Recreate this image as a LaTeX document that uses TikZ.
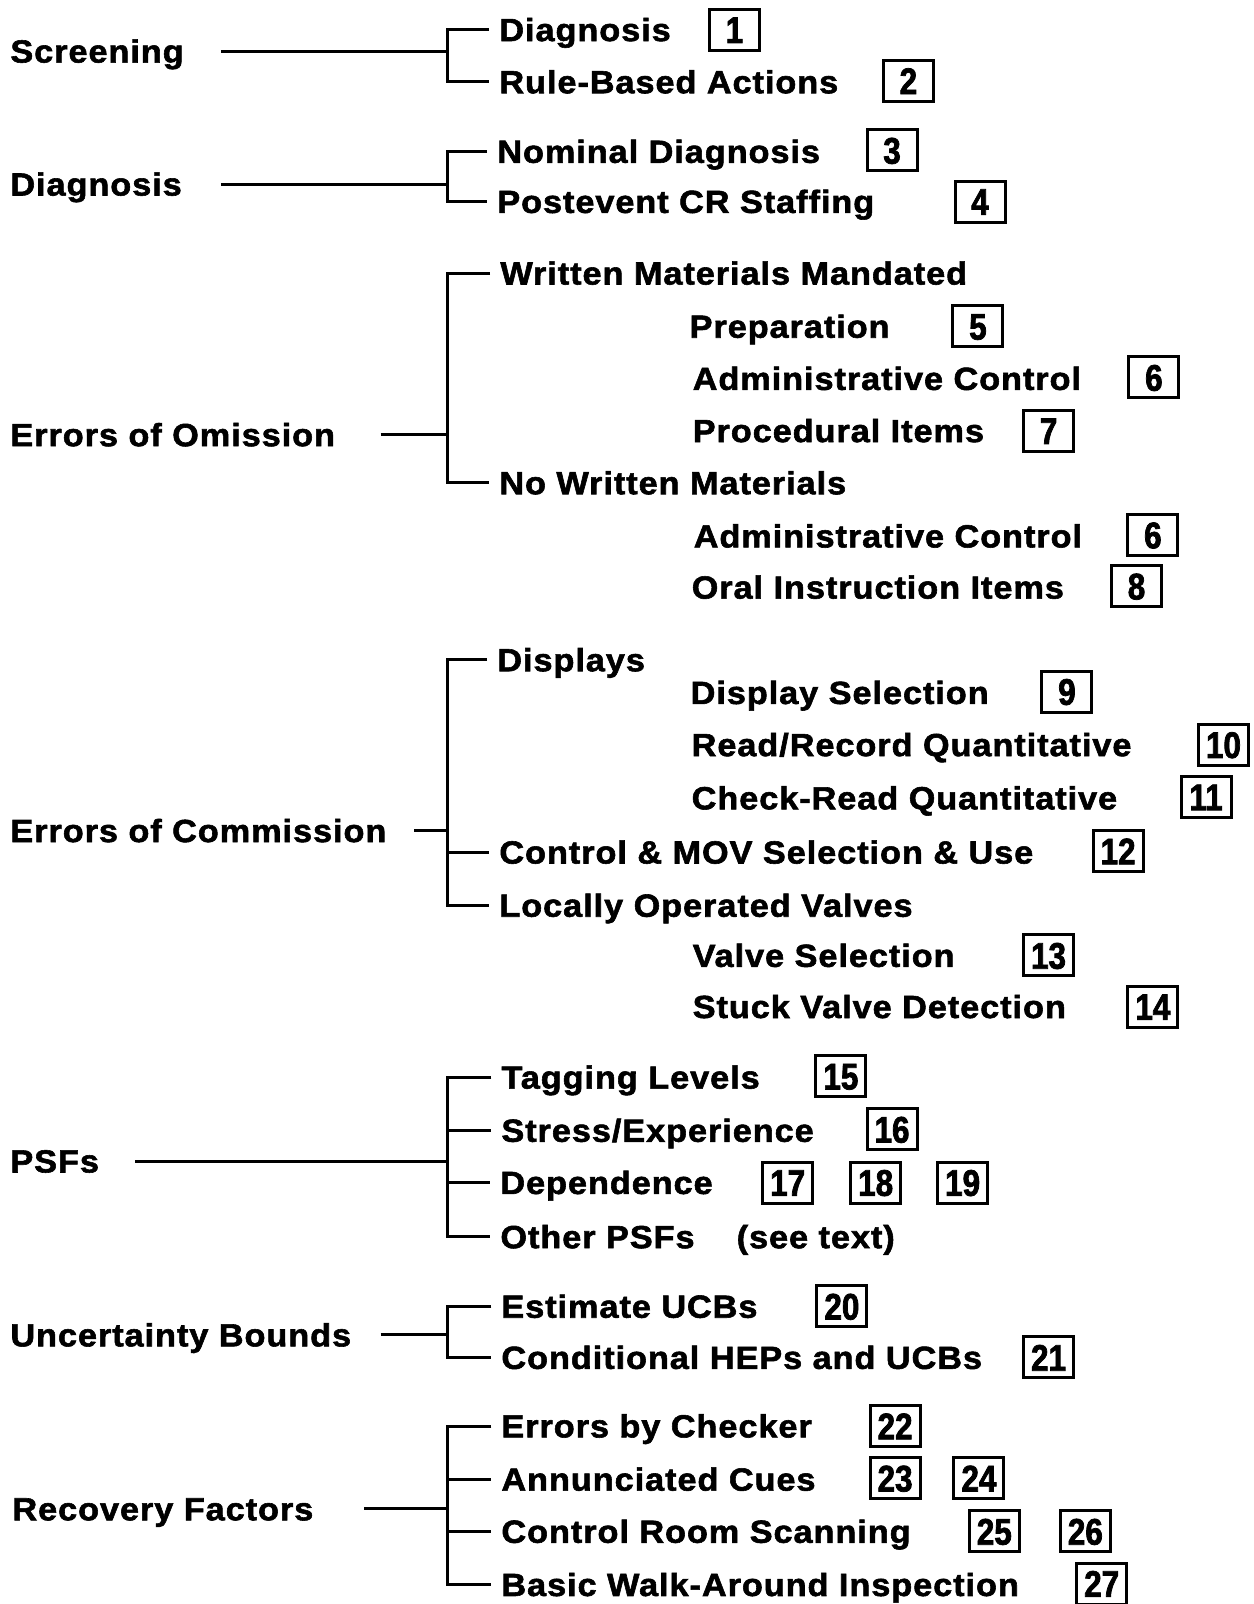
\documentclass[tikz,border=0pt]{standalone}
\usepackage{fontspec}
\newfontfamily\lbfam[FakeStretch=1.07,LetterSpace=3,FakeBold=1.8,
  BoldFeatures={FakeStretch=1.07,LetterSpace=3,FakeBold=1.8}]{Liberation Sans}
\newfontfamily\nbfam[FakeStretch=0.85,FakeBold=2,
  BoldFeatures={FakeStretch=0.85,FakeBold=2}]{Liberation Sans}
\newcommand\lbfont{\fontsize{32}{36}\selectfont\lbfam\bfseries}
\newcommand\nbfont{\fontsize{37}{40}\selectfont\nbfam\bfseries}
\begin{document}
\begin{tikzpicture}[x=1.0229pt,y=-1.0229pt,
  lab/.style={font=\lbfont, anchor=west, inner sep=0pt, text height=22.8pt, text depth=0pt},
  numbox/.style={draw, line width=3pt, minimum width=50pt, minimum height=41pt, inner sep=0pt, font=\nbfont, text height=26.5pt, text depth=0pt},
  conn/.style={line width=3pt},
  tick/.style={line width=3pt}]
\useasboundingbox[fill=white] (0,0) rectangle (1225,1568);

% ---------- Screening ----------
\node[lab] (pS) at (10,50) {Screening};
\coordinate (sS) at (216,50);
\coordinate (bS) at (437,50);
\node[lab] (a1) at (488,29) {Diagnosis};
\node[numbox] (n1) at (718,29) {1};
\node[lab] (a2) at (488,80) {Rule-Based Actions};
\node[numbox] (n2) at (888,79) {2};
\draw[conn] (sS) -- (bS);
\draw[conn] ([xshift=-10pt]a1.west) -| (bS) |- ([xshift=-10pt]a2.west);

% ---------- Diagnosis ----------
\node[lab] (pD) at (10,180) {Diagnosis};
\coordinate (sD) at (216,180);
\coordinate (bD) at (437,180);
\node[lab] (d1) at (486,148) {Nominal Diagnosis};
\node[numbox] (n3) at (872,147) {3};
\node[lab] (d2) at (486,197) {Postevent CR Staffing};
\node[numbox] (n4) at (958,197) {4};
\draw[conn] (sD) -- (bD);
\draw[conn] ([xshift=-10pt]d1.west) -| (bD) |- ([xshift=-10pt]d2.west);

% ---------- Errors of Omission ----------
\node[lab] (pO) at (10,425) {Errors of Omission};
\coordinate (sO) at (372,425);
\coordinate (bO) at (437,425);
\node[lab] (o1) at (489,267) {Written Materials Mandated};
\node[lab] (o1a) at (674,319) {Preparation};
\node[numbox] (n5) at (956,319) {5};
\node[lab] (o1b) at (677,370) {Administrative Control};
\node[numbox] (n6a) at (1128,369) {6};
\node[lab] (o1c) at (677,421) {Procedural Items};
\node[numbox] (n7) at (1025,421) {7};
\node[lab] (o2) at (488,472) {No Written Materials};
\node[lab] (o2a) at (678,524) {Administrative Control};
\node[numbox] (n6b) at (1127,523) {6};
\node[lab] (o2b) at (676,574) {Oral Instruction Items};
\node[numbox] (n8) at (1111,573) {8};
\draw[conn] (sO) -- (bO);
\draw[conn] ([xshift=-10pt]o1.west) -| (bO) |- ([xshift=-10pt]o2.west);

% ---------- Errors of Commission ----------
\node[lab] (pC) at (10,812) {Errors of Commission};
\coordinate (sC) at (405,812);
\coordinate (bC) at (437,812);
\node[lab] (c1) at (486,645) {Displays};
\node[lab] (c1a) at (675,677) {Display Selection};
\node[numbox] (n9) at (1043,676) {9};
\node[lab] (c1b) at (676,728) {Read/Record Quantitative};
\node[numbox] (n10) at (1196,728) {10};
\node[lab] (c1c) at (676,780) {Check-Read Quantitative};
\node[numbox] (n11) at (1179,779) {11};
\node[lab] (c2) at (488,833) {Control \& MOV Selection \& Use};
\node[numbox] (n12) at (1093,832) {12};
\node[lab] (c3) at (488,885) {Locally Operated Valves};
\node[lab] (c3a) at (677,934) {Valve Selection};
\node[numbox] (n13) at (1025,934) {13};
\node[lab] (c3b) at (677,984) {Stuck Valve Detection};
\node[numbox] (n14) at (1127,984) {14};
\draw[conn] (sC) -- (bC);
\draw[conn] ([xshift=-10pt]c1.west) -| (bC) |- ([xshift=-10pt]c3.west);
\draw[tick] (bC |- c2.west) -- ([xshift=-10pt]c2.west);

% ---------- PSFs ----------
\node[lab] (pP) at (10,1135) {PSFs};
\coordinate (sP) at (132,1135);
\coordinate (bP) at (437,1135);
\node[lab] (q1) at (490,1053) {Tagging Levels};
\node[numbox] (n15) at (822,1052) {15};
\node[lab] (q2) at (490,1105) {Stress/Experience};
\node[numbox] (n16) at (872,1104) {16};
\node[lab] (q3) at (489,1156) {Dependence};
\node[numbox] (n17) at (770,1156) {17};
\node[numbox] (n18) at (856,1156) {18};
\node[numbox] (n19) at (941,1156) {19};
\node[lab] (q4) at (489,1209) {Other PSFs};
\node[lab] (q4t) at (720,1209) {(see text)};
\draw[conn] (sP) -- (bP);
\draw[conn] ([xshift=-10pt]q1.west) -| (bP) |- ([xshift=-10pt]q4.west);
\draw[tick] (bP |- q2.west) -- ([xshift=-10pt]q2.west);
\draw[tick] (bP |- q3.west) -- ([xshift=-10pt]q3.west);

% ---------- Uncertainty Bounds ----------
\node[lab] (pU) at (10,1305) {Uncertainty Bounds};
\coordinate (sU) at (372,1305);
\coordinate (bU) at (437,1305);
\node[lab] (u1) at (490,1277) {Estimate UCBs};
\node[numbox] (n20) at (823,1277) {20};
\node[lab] (u2) at (490,1327) {Conditional HEPs and UCBs};
\node[numbox] (n21) at (1025,1327) {21};
\draw[conn] (sU) -- (bU);
\draw[conn] ([xshift=-10pt]u1.west) -| (bU) |- ([xshift=-10pt]u2.west);

% ---------- Recovery Factors ----------
\node[lab] (pR) at (12,1475) {Recovery Factors};
\coordinate (sR) at (356,1475);
\coordinate (bR) at (437,1475);
\node[lab] (r1) at (490,1394) {Errors by Checker};
\node[numbox] (n22) at (875,1394) {22};
\node[lab] (r2) at (490,1446) {Annunciated Cues};
\node[numbox] (n23) at (875,1445) {23};
\node[numbox] (n24) at (957,1445) {24};
\node[lab] (r3) at (490,1497) {Control Room Scanning};
\node[numbox] (n25) at (972,1497) {25};
\node[numbox] (n26) at (1061,1497) {26};
\node[lab] (r4) at (490,1549) {Basic Walk-Around Inspection};
\node[numbox] (n27) at (1077,1548) {27};
\draw[conn] (sR) -- (bR);
\draw[conn] ([xshift=-10pt]r1.west) -| (bR) |- ([xshift=-10pt]r4.west);
\draw[tick] (bR |- r2.west) -- ([xshift=-10pt]r2.west);
\draw[tick] (bR |- r3.west) -- ([xshift=-10pt]r3.west);
\end{tikzpicture}
\end{document}
